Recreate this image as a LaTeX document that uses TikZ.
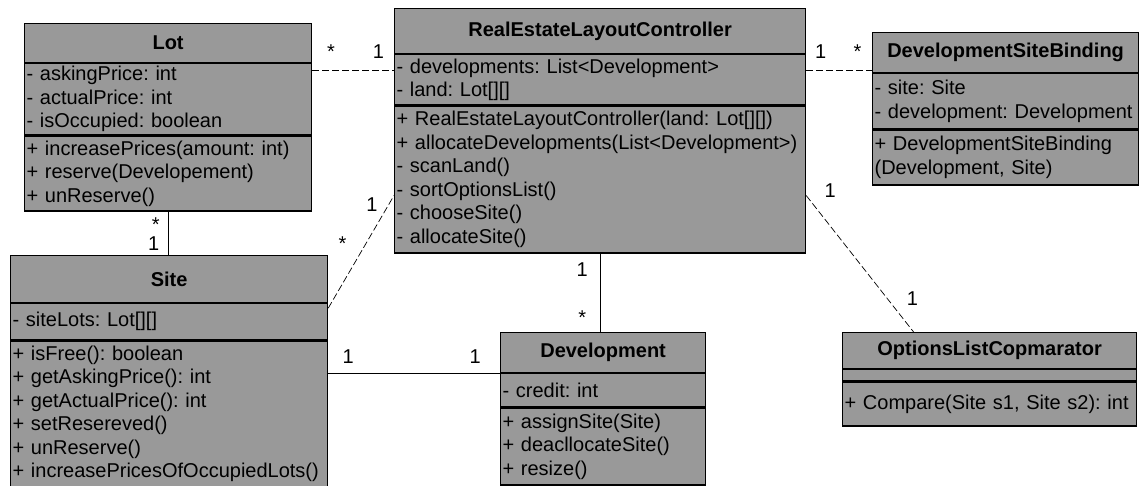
\documentclass[tikz,border=0pt]{standalone}
\usepackage{fontspec}
\setmainfont{Liberation Sans}
\usepackage{tikz}
\usetikzlibrary{positioning}
\definecolor{boxgray}{gray}{0.6}
\frenchspacing

\tikzset{
  classhead/.style={draw, line width=1.2pt, fill=boxgray, anchor=north west, align=center,
    inner xsep=2pt, inner ysep=0pt, font=\bfseries\fontsize{20}{23.5}\selectfont},
  classpart/.style={draw, line width=1.2pt, fill=boxgray, align=left,
    inner xsep=2pt, inner ysep=0pt, font=\fontsize{20}{23.5}\selectfont},
  mult/.style={inner sep=0pt, font=\fontsize{20}{24}\selectfont},
  assoc/.style={draw, line width=0.8pt},
  depline/.style={draw, line width=0.7pt, dash pattern=on 7pt off 3pt}
}

\begin{document}
\frenchspacing
\begin{tikzpicture}[x=1pt,y=-1pt]
  \useasboundingbox (0,0) rectangle (1140,485);

  % Lot
  \node[classhead, text width=283pt, minimum height=39pt] (lot) at (24,23) {Lot};
  \node[classpart, text width=283pt, minimum height=71pt, below=0pt of lot] (lota)
    {- askingPrice: int\\- actualPrice: int\\- isOccupied: boolean};
  \node[classpart, text width=283pt, minimum height=75pt, below=0pt of lota] (lotm)
    {+ increasePrices(amount: int)\\+ reserve(Developement)\\+ unReserve()};

  % RealEstateLayoutController
  \node[classhead, text width=407pt, minimum height=45pt] (relc) at (394,8) {RealEstateLayoutController};
  \node[classpart, text width=407pt, minimum height=50pt, below=0pt of relc] (relca)
    {- developments: List<Development>\\- land: Lot[][]};
  \node[classpart, text width=407pt, minimum height=147pt, below=0pt of relca] (relcm)
    {+ RealEstateLayoutController(land: Lot[][])\\+ allocateDevelopments(List<Development>)\\- scanLand()\\- sortOptionsList()\\- chooseSite()\\- allocateSite()};

  % DevelopmentSiteBinding
  \node[classhead, text width=262pt, minimum height=40pt] (dsb) at (872,32) {DevelopmentSiteBinding};
  \node[classpart, text width=262pt, minimum height=55pt, below=0pt of dsb] (dsba)
    {- site: Site\\- development: Development};
  \node[classpart, text width=262pt, minimum height=55pt, below=0pt of dsba] (dsbm)
    {+ DevelopmentSiteBinding\\(Development, Site)};

  % Site
  \node[classhead, text width=313pt, minimum height=47pt] (site) at (10,255) {Site};
  \node[classpart, text width=313pt, minimum height=36pt, below=0pt of site] (sitea)
    {- siteLots: Lot[][]};
  \node[classpart, text width=313pt, minimum height=146pt, below=0pt of sitea] (sitem)
    {+ isFree(): boolean\\+ getAskingPrice(): int\\+ getActualPrice(): int\\+ setResereved()\\+ unReserve()\\+ increasePricesOfOccupiedLots()};

  % Development
  \node[classhead, text width=201pt, minimum height=40pt] (dev) at (500,332) {Development};
  \node[classpart, text width=201pt, minimum height=33pt, below=0pt of dev] (deva)
    {- credit: int};
  \node[classpart, text width=201pt, minimum height=77pt, below=0pt of deva] (devm)
    {+ assignSite(Site)\\+ deacllocateSite()\\+ resize()};

  % OptionsListCopmarator
  \node[classhead, text width=290pt, minimum height=36pt] (olc) at (842,332) {OptionsListCopmarator};
  \node[classpart, text width=290pt, minimum height=11pt, below=0pt of olc] (olca) {};
  \node[classpart, text width=290pt, minimum height=44pt, below=0pt of olca] (olcm)
    {+ Compare(Site s1, Site s2): int};

  % associations
  \coordinate (lr) at ([yshift=-7pt]lota.north east);
  \draw[depline] (lr) -- node[mult, pos=0.23, above=11pt] {*}
    node[mult, pos=0.81, above=11pt] {1} (lr -| relca.west);

  \coordinate (rd) at ([yshift=3pt]dsb.south west);
  \draw[depline] (rd -| relca.east) -- node[mult, pos=0.22, above=11pt] {1}
    node[mult, pos=0.78, above=11pt] {*} (rd);

  \draw[assoc] (lotm.south) -- node[mult, pos=0.3, left=8pt] {*}
    node[mult, pos=0.74, left=8.5pt] {1} (lotm.south |- site.north);

  \draw[depline] ([yshift=-5pt]sitea.north east) -- node[mult, pos=0.57, left=19pt] {*}
    node[mult, pos=0.92, left=11pt] {1} ([yshift=-16pt]relcm.west);

  \draw[assoc] (dev.south west -| site.east) -- node[mult, pos=0.116, above=9pt] {1}
    node[mult, pos=0.855, above=9pt] {1} (dev.south west);

  \draw[assoc] (relcm.south) -- node[mult, pos=0.21, left=12pt] {1}
    node[mult, pos=0.82, left=13.5pt] {*} (relcm.south |- dev.north);

  \draw[depline] ([yshift=-16pt]relcm.east) -- node[mult, at start, xshift=24pt, yshift=5pt] {1}
    node[mult, pos=0.756, xshift=25pt] {1} ([xshift=-76pt]olc.north);
\end{tikzpicture}
\end{document}
